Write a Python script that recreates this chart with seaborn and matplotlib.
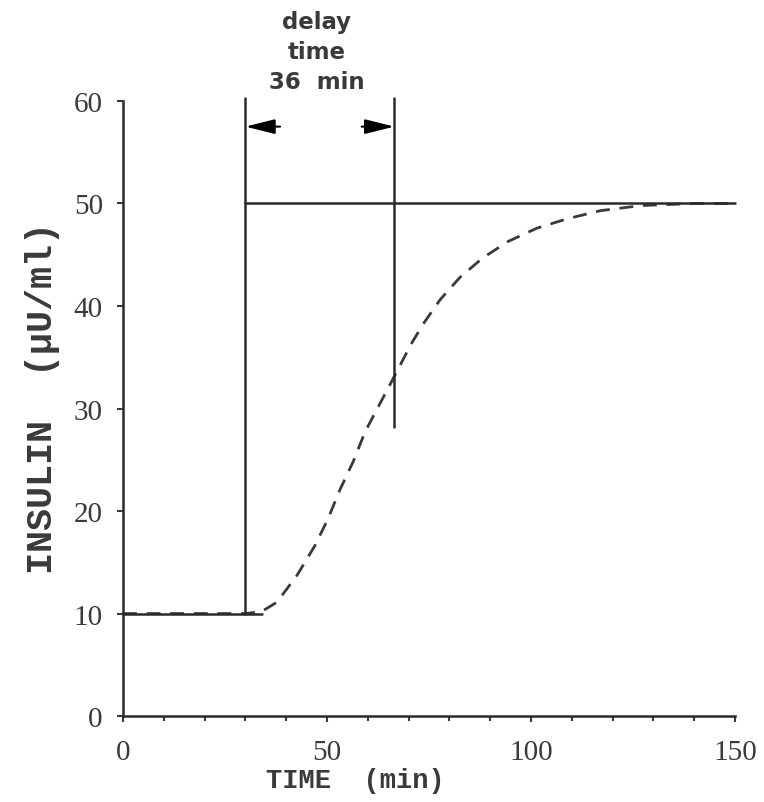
import matplotlib
matplotlib.use("Agg")
import matplotlib.pyplot as plt
import seaborn as sns
import numpy as np
import pandas as pd

# --- data ---
baseline_x = [0, 34]
baseline_y = [10, 10]
step_x = [30, 150]
step_y = [50, 50]
step_vert_x = [30, 30]
step_vert_y = [10, 60.3]
delay_vert_x = [66.5, 66.5]
delay_vert_y = [28.2, 60.3]

curve_x = [0, 30, 34, 37.7, 42.6, 47, 50.2, 53.2, 56.4, 59.3, 63, 65.4, 67.9,
           70.5, 73.5, 77.7, 82.6, 88.2, 94.4, 101.5, 108.8, 117, 127, 140, 150]
curve_y = [10, 10, 10.2, 11.1, 13.7, 16.6, 19.2, 22.1, 24.8, 27.7, 30.5, 32.3, 34.2,
           36.2, 38.2, 40.6, 42.8, 44.7, 46.3, 47.6, 48.5, 49.3, 49.8, 50, 50]

x_major = [0, 50, 100, 150]
x_minor = list(range(0, 151, 10))
y_ticks = [0, 10, 20, 30, 40, 50, 60]
delay_label = "delay\ntime\n36  min"
x_label = "TIME  (min)"
y_label = "INSULIN  (μU/ml)"
arrow_y = 57.5

sns.set_style("ticks")
plt.rcParams['font.family'] = ['Liberation Serif', 'DejaVu Serif']

fig = plt.figure(figsize=(7.64, 8.03), dpi=100)
ax = fig.add_axes([0.161, 0.107, 0.801, 0.766])

lc = '#2a2a2a'
sns.lineplot(x=curve_x, y=curve_y, ax=ax, color='#3a3a3a', lw=2.0,
             linestyle=(0, (5, 3.5)), sort=False)
for xs, ys in [(baseline_x, baseline_y), (step_x, step_y),
               (step_vert_x, step_vert_y), (delay_vert_x, delay_vert_y)]:
    sns.lineplot(x=xs, y=ys, ax=ax, color=lc, lw=1.8, sort=False,
                 estimator=None)
for l in ax.get_lines():
    l.set_clip_on(False)

ax.set_xlim(0, 150)
ax.set_ylim(0, 60)
ax.set_xticks(x_major)
ax.set_xticks(x_minor, minor=True)
ax.set_yticks(y_ticks)
ax.tick_params(axis='both', labelsize=21, colors='#3a3a3a', width=1.5, length=4.5,
               direction='out')
ax.tick_params(axis='x', pad=12)
ax.tick_params(axis='y', pad=10)
ax.tick_params(axis='x', which='minor', length=3.5, width=1.5, colors='#3a3a3a')
sns.despine(ax=ax)
for s in ['left', 'bottom']:
    ax.spines[s].set_linewidth(1.8)
    ax.spines[s].set_color(lc)

mono = ['Liberation Mono', 'DejaVu Sans Mono']
ax.set_xlabel(x_label, fontsize=19.5, color='#3a3a3a', family=mono,
              fontweight='bold')
ax.xaxis.label.set_va('center')
ax.xaxis.set_label_coords(0.379, -0.104)
ax.set_ylabel(y_label, fontsize=26.5, color='#3a3a3a', family=mono,
              fontweight='bold')
ax.yaxis.label.set_va('center')
ax.yaxis.set_label_coords(-0.131, 0.519)

# delay annotation
ax.text(47.5, 60.75, delay_label, ha='center', va='bottom', fontsize=16.5,
        fontweight='bold', family=['DejaVu Sans'], color='#3a3a3a',
        linespacing=1.4, clip_on=False)
ax.annotate("", xy=(30, arrow_y), xytext=(38.5, arrow_y),
            arrowprops=dict(arrowstyle='-|>,head_length=1.8,head_width=0.45',
                            color='black', lw=1.5, shrinkA=0, shrinkB=0),
            annotation_clip=False)
ax.annotate("", xy=(66.5, arrow_y), xytext=(58.5, arrow_y),
            arrowprops=dict(arrowstyle='-|>,head_length=1.8,head_width=0.45',
                            color='black', lw=1.5, shrinkA=0, shrinkB=0),
            annotation_clip=False)

fig.savefig("out.png", dpi=100)
